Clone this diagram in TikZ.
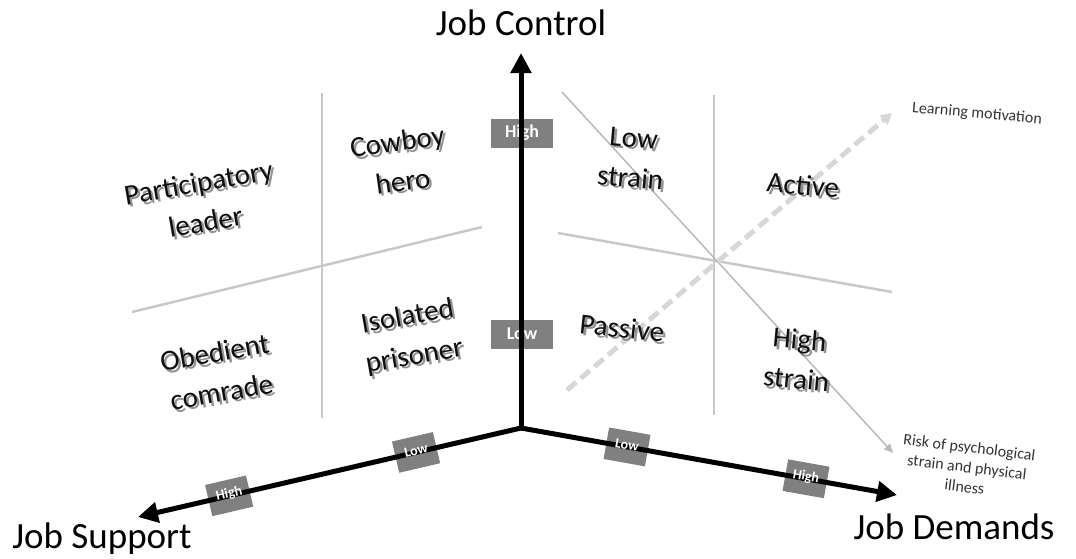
\documentclass[tikz,border=0pt]{standalone}
\usepackage{fontspec}
\setmainfont{Carlito}
\usetikzlibrary{arrows.meta,calc}

\definecolor{boxgray}{RGB}{128,128,128}
\definecolor{gridgray}{RGB}{200,200,200}
\definecolor{dashgray}{RGB}{215,215,215}
\definecolor{diaggray}{RGB}{185,185,185}
\definecolor{shadowgray}{RGB}{120,120,120}
\definecolor{ink}{RGB}{15,15,15}

\tikzset{
  axis/.style={line width=5pt, -{Triangle[length=20pt,width=20pt]}},
  gridline/.style={draw=gridgray, line width=2.5pt},
  qtext/.style={font=\fontsize{29}{40}\selectfont, align=center, text=ink, inner sep=0pt},
  qshadow/.style={qtext, text=shadowgray, opacity=0.8},
  axistitle/.style={font=\fontsize{37}{40}\selectfont, text=black, inner sep=0pt, anchor=base},
  tagbox/.style={fill=boxgray, minimum width=62pt, minimum height=29pt, inner sep=0pt,
                 text=white, font=\bfseries\fontsize{18}{18}\selectfont},
  sidebox/.style={fill=boxgray, minimum width=42pt, minimum height=32pt, inner sep=0pt},
  sidetext/.style={text=white, font=\bfseries\fontsize{14}{14}\selectfont, inner sep=0pt},
  note/.style={font=\fontsize{16}{20}\selectfont, text=black!80, align=center, inner sep=0pt},
}

% quadrant label with a soft drop shadow
\newcommand\quadlabel[4]{%
  \node[qshadow, rotate=#3] at ($(#2)+(2.5,2.5)$) {#4};
  \node[qtext, rotate=#3] (#1) at (#2) {#4};}

\begin{document}
\begin{tikzpicture}[x=1pt, y=-1pt]
\useasboundingbox (0,0) rectangle (1076,558);

% axis end points
\coordinate (O) at (521,428);
\coordinate (CT) at (521,53);
\coordinate (DT) at (897,495);
\coordinate (ST) at (138,517);

% quadrant grids
\coordinate (l1) at (322,93);   \coordinate (l2) at (322,418);
\coordinate (l3) at (132,312);  \coordinate (l4) at (482,227);
\coordinate (r1) at (714,95);   \coordinate (r2) at (714,415);
\coordinate (r3) at (558,233);  \coordinate (r4) at (892,292);
\draw[gridline] (l1) -- (l2);
\draw[gridline] (l3) -- (l4);
\draw[gridline] (r1) -- (r2);
\draw[gridline] (r3) -- (r4);

% outcome diagonals
\coordinate (s1) at (562,92);
\coordinate (s2) at (893,453);
\coordinate (m1) at (567,390);
\coordinate (m2) at (892,113);
\draw[draw=diaggray, line width=1.5pt, -{Triangle[length=9pt,width=8pt]}] (s1) -- (s2);
\draw[draw=dashgray, line width=5pt, dash pattern=on 12pt off 6pt,
      -{Triangle[length=11pt,width=12pt]}] (m1) -- (m2);

% level tags under the axes
\node[tagbox] (cHigh) at (522,133) {High};
\node[tagbox] (cLow) at (522,334) {Low};
\node[sidebox, rotate=13.1] (sLowBox) at ($(O)!0.274!(ST)$) {};
\node[sidebox, rotate=13.1] (sHighBox) at ($(O)!0.762!(ST)$) {};
\node[sidebox, rotate=-10.1] (dLowBox) at ($(O)!0.282!(DT)$) {};
\node[sidebox, rotate=-10.1] (dHighBox) at ($(O)!0.758!(DT)$) {};

% axes
\draw[axis] (O) -- (CT);
\draw[axis] (O) -- (DT);
\draw[axis] (O) -- (ST);
\fill (O) circle (2.5pt);

\node[sidetext, rotate=13.1] (sLow) at ($(sLowBox.center)+(0,-2)$) {Low};
\node[sidetext, rotate=13.1] (sHigh) at ($(sHighBox.center)+(0,-2)$) {High};
\node[sidetext, rotate=-10.1] (dLow) at ($(dLowBox.center)+(0,-2)$) {Low};
\node[sidetext, rotate=-10.1] (dHigh) at ($(dHighBox.center)+(0,-2)$) {High};

% axis titles
\node[axistitle] (ctitle) at (521,35) {Job Control};
\node[axistitle] (dtitle) at (954,539) {Job Demands};
\node[axistitle] (stitle) at (102,548) {Job Support};

% quadrant labels
\coordinate (pLead) at (202,202);
\coordinate (pCow) at (400,161);
\coordinate (pObe) at (218,372);
\coordinate (pIso) at (411,337);
\coordinate (pLow) at (632,158);
\coordinate (pAct) at (803,185);
\coordinate (pPas) at (622,328);
\coordinate (pHigh) at (798,359);
\quadlabel{lead}{pLead}{10}{Participatory\\leader}
\quadlabel{cowboy}{pCow}{8}{Cowboy\\hero}
\quadlabel{obedient}{pObe}{10}{Obedient\\comrade}
\quadlabel{isolated}{pIso}{10}{Isolated\\prisoner}
\quadlabel{lowstrain}{pLow}{-5}{Low\\strain}
\quadlabel{active}{pAct}{-5}{Active}
\quadlabel{passive}{pPas}{-6}{Passive}
\quadlabel{highstrain}{pHigh}{-5}{High\\strain}

% outcome notes
\node[note, rotate=-5] (learn) at (977,114) {Learning motivation};
\node[note, rotate=-7] (risk) at (967,467) {Risk of psychological\\strain and physical\\illness};
\end{tikzpicture}
\end{document}
